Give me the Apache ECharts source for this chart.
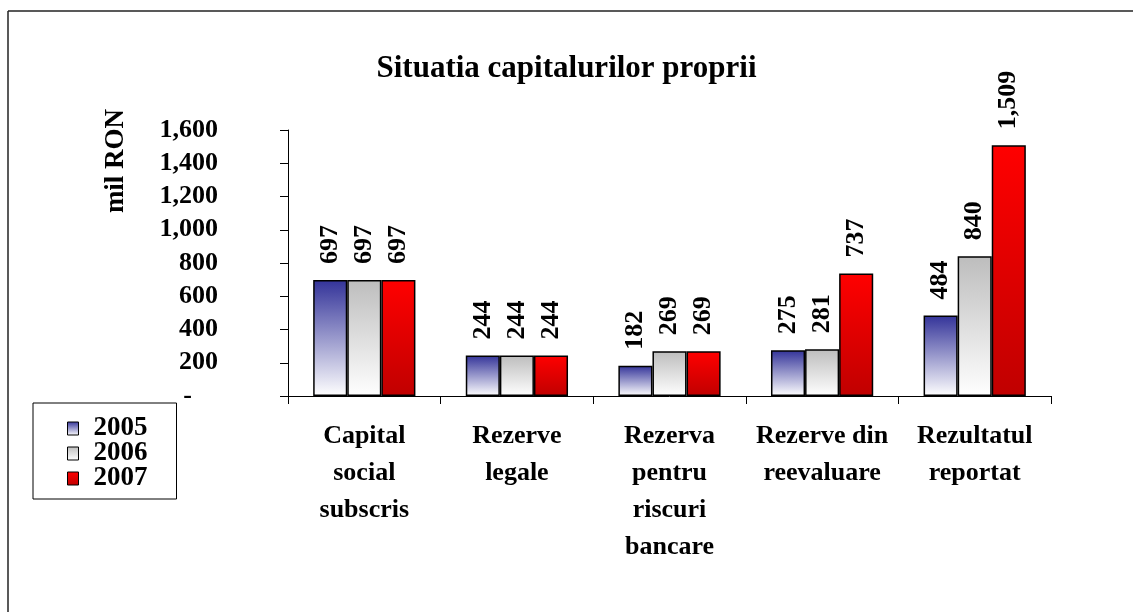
<!DOCTYPE html>
<html>
<head>
<meta charset="utf-8">
<script src="https://cdn.jsdelivr.net/npm/echarts@6/dist/echarts.min.js"></script>
<style>html,body{margin:0;padding:0;background:#fff;}#chart{width:1133px;height:612px;}</style>
</head>
<body>
<div id="chart"></div>
<script>
const categories = ['Capital\nsocial\nsubscris', 'Rezerve\nlegale', 'Rezerva\npentru\nriscuri\nbancare', 'Rezerve din\nreevaluare', 'Rezultatul\nreportat'];
const years = ['2005', '2006', '2007'];
const values2005 = [697, 244, 182, 275, 484];
const values2006 = [697, 244, 269, 281, 840];
const values2007 = [697, 244, 269, 737, 1509];
const yTicks = [0, 200, 400, 600, 800, 1000, 1200, 1400, 1600];
const yAxisTitle = 'mil RON';

const FONT = '"Liberation Serif", "Times New Roman", serif';
const grads = [
  ['#333399', '#ffffff'],
  ['#bdbdbd', '#ffffff'],
  ['#ff0000', '#c00000']
];
function grad(c) {
  return new echarts.graphic.LinearGradient(0, 0, 0, 1, [{offset: 0, color: c[0]}, {offset: 1, color: c[1]}]);
}
const seriesData = [values2005, values2006, values2007];
const fmt = v => v === 0 ? '-    ' : v.toLocaleString('en-US');

const chart = echarts.init(document.getElementById('chart'));
chart.setOption({
  backgroundColor: '#fff',
  animation: false,
  title: {
    text: 'Situatia capitalurilor proprii',
    left: 'center', top: 48,
    textStyle: {fontFamily: FONT, fontWeight: 'bold', fontSize: 31, color: '#000'}
  },
  legend: {
    orient: 'vertical',
    left: 33, top: 403,
    padding: [12, 29, 7, 34],
    itemGap: -2,
    itemWidth: 11, itemHeight: 13,
    borderColor: '#000', borderWidth: 1,
    icon: 'rect',
    itemStyle: {borderColor: '#000', borderWidth: 1},
    textStyle: {fontFamily: FONT, fontWeight: 'bold', fontSize: 27, color: '#000', lineHeight: 24, padding: [0, 0, 0, 10]},
    data: years
  },
  grid: {left: 288, right: 82, top: 130, bottom: 216},
  xAxis: {
    type: 'category',
    data: categories,
    axisLine: {lineStyle: {color: '#000', width: 1}},
    axisTick: {show: true, length: 8, lineStyle: {color: '#000'}},
    axisLabel: {interval: 0, margin: 22, fontFamily: FONT, fontWeight: 'bold', fontSize: 26, lineHeight: 37, color: '#000'}
  },
  yAxis: {
    type: 'value',
    min: yTicks[0], max: yTicks[yTicks.length - 1], interval: 200,
    axisLine: {show: true, lineStyle: {color: '#000', width: 1}},
    axisTick: {show: true, length: 8, lineStyle: {color: '#000'}},
    splitLine: {show: false},
    axisLabel: {margin: 70, formatter: fmt, fontFamily: FONT, fontWeight: 'bold', fontSize: 26, color: '#000'}
  },
  series: years.map((y, i) => ({
    name: y,
    type: 'bar',
    data: seriesData[i],
    barGap: '0%',
    barCategoryGap: '33%',
    itemStyle: {color: grad(grads[i]), borderColor: '#000', borderWidth: 1.5},
    label: {
      show: true, position: 'top', rotate: 90, align: 'left', verticalAlign: 'middle',
      distance: 16,
      formatter: p => p.value.toLocaleString('en-US'),
      fontFamily: FONT, fontWeight: 'bold', fontSize: 26, color: '#000'
    }
  })),
  graphic: [
    {type: 'line', shape: {x1: 8, y1: 11, x2: 1133, y2: 11}, style: {stroke: '#222', lineWidth: 1.5}},
    {type: 'line', shape: {x1: 8, y1: 11, x2: 8, y2: 612}, style: {stroke: '#222', lineWidth: 1.5}},
    {type: 'text', x: 116, y: 161, rotation: Math.PI / 2,
     style: {text: yAxisTitle, fontFamily: FONT, fontWeight: 'bold', fontSize: 27, fill: '#000', align: 'center', verticalAlign: 'middle'}}
  ]
});
</script>
</body>
</html>
